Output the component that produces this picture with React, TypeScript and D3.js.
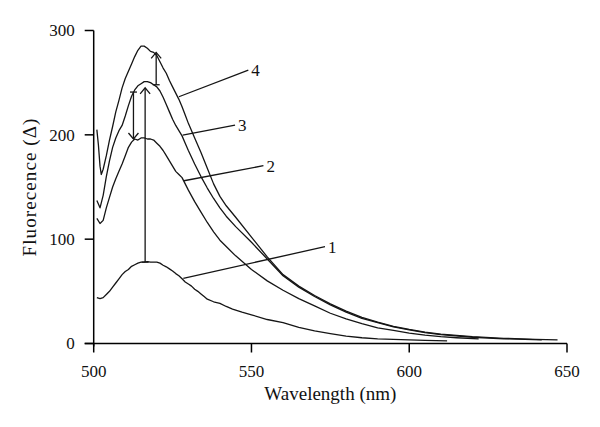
import React from "react";
import * as d3 from "d3";

// Emission spectra: [wavelength nm, fluorescence]
const curve1: [number, number][] = [
  [501, 44], [502, 43], [503, 44], [504, 47], [505, 50], [506, 54], [507, 58], [508, 62], [509, 66],
  [510, 69], [511, 71], [512, 74], [513, 75.5], [514, 77], [515, 78], [516, 78], [517, 78.5], [518, 78],
  [519, 78], [520, 78], [521, 77], [522, 75], [523, 73.5], [524, 71.5], [525, 69.5], [526, 67], [527, 65],
  [528, 62], [529, 59], [530, 57], [531, 55], [532, 52], [533, 50], [534, 47.5], [535, 45], [536, 42.5],
  [538, 40], [540, 38.5], [542, 35.5], [544, 33], [547, 30], [550, 27.5], [555, 23], [560, 20], [565, 15.5],
  [570, 12], [575, 9.5], [580, 7], [585, 5.5], [590, 4.5], [595, 4], [600, 3.5], [605, 3], [612, 2.5],
];
const curve2: [number, number][] = [
  [501, 120], [502, 115], [503, 118], [504, 130], [505, 140], [506, 150], [507, 158], [508, 165],
  [509, 172], [510, 180], [511, 188], [512, 193], [513, 196], [514, 195], [515, 197], [516, 197],
  [517, 196], [518, 196], [519, 195], [520, 192], [521, 189], [522, 185], [523, 180], [524, 175],
  [525, 170], [526, 165], [527, 162], [528, 159], [529, 153], [530, 147], [532, 136], [534, 126],
  [536, 116], [538, 107], [540, 99], [542, 93], [545, 84], [550, 71], [555, 60], [560, 51], [565, 43],
  [570, 36], [575, 29], [580, 23.5], [585, 19], [590, 15], [595, 12.5], [600, 10], [605, 8], [610, 6.5],
  [615, 5.5], [622, 4.5],
];
const curve3: [number, number][] = [
  [501, 137], [502, 130], [503, 142], [504, 160], [505, 175], [506, 188], [507, 197], [508, 204],
  [509, 209], [510, 218], [511, 228], [512, 237], [513, 243], [514, 247], [515, 249], [516, 251],
  [517, 251], [518, 250], [519, 248], [520, 246], [521, 242], [522, 236], [523, 229], [524, 222],
  [525, 215], [526, 209], [527, 204], [528, 199], [529, 192], [530, 185], [532, 172], [534, 160],
  [536, 149], [538, 139], [540, 130], [542, 122], [545, 112], [550, 97], [555, 81], [560, 65], [565, 54],
  [570, 45], [575, 37], [580, 30], [585, 24], [590, 20], [595, 16], [600, 13], [605, 10.5], [610, 8.5],
  [620, 6], [630, 4.5], [642, 3.5],
];
const curve4: [number, number][] = [
  [501, 205], [501.5, 190], [502, 170], [502.4, 162], [503, 167], [504, 180], [505, 195], [506, 208],
  [507, 222], [508, 233], [509, 245], [510, 254], [511, 261], [512, 268], [513, 275], [514, 281],
  [515, 285], [516, 285], [517, 283], [518, 280], [519, 279], [520, 276], [521, 270], [522, 264],
  [523, 259], [524, 252], [525, 246], [526, 240], [527, 234], [528, 227], [529, 219], [530, 211],
  [532, 197], [534, 183], [536, 168], [538, 153], [540, 141], [542, 132], [545, 121], [550, 102],
  [555, 83], [560, 66], [565, 55], [570, 46], [575, 38], [580, 31], [585, 25], [590, 20.5], [595, 16.5],
  [600, 13.5], [605, 11], [610, 9], [620, 6.5], [630, 5], [640, 4], [647, 3.5],
];

const xTicks = [500, 550, 600, 650];
const yTicks = [0, 100, 200, 300];

// Arrows: [wavelength, from value, to value]
const arrows: [number, number, number][] = [
  [519.8, 248, 279],
  [512.6, 241, 196],
  [516.3, 78, 245],
];

// Curve labels: text, anchor on curve [nm, value], end of leader [nm, value]
const labelText = ["4", "3", "2", "1"];
const labelFrom: [number, number][] = [[527.0, 236.5], [528.2, 199.8], [528.6, 156], [528.4, 62.5]];
const labelTo: [number, number][] = [[549.0, 262.1], [544.8, 209.4], [553.8, 170.4], [573.3, 92.8]];

const W = 600;
const H = 427;
const FONT = "Liberation Serif, DejaVu Serif, serif";

export default function App() {
  const x = d3.scaleLinear().domain([500, 650]).range([93.7, 567]);
  const y = d3.scaleLinear().domain([0, 300]).range([343.5, 30.5]);
  const line = d3
    .line<[number, number]>()
    .x((d) => x(d[0]))
    .y((d) => y(d[1]))
    .curve(d3.curveLinear);
  const curves = [curve1, curve2, curve3, curve4];
  const ink = "#151515";
  const ts = { fontFamily: FONT, fontSize: 17, fill: "#111" } as React.CSSProperties;

  return (
    <svg width={W} height={H} style={{ position: "absolute", left: 0, top: 0, background: "#fff" }}>
      <rect width={W} height={H} fill="#fff" />
      {/* axes */}
      <line x1={x(500)} x2={x(500)} y1={y(300)} y2={y(0) + 3} stroke="#000" strokeWidth={1.5} />
      <line x1={x(500) - 9} x2={x(650)} y1={y(0)} y2={y(0)} stroke="#000" strokeWidth={1.5} />
      {yTicks.map((t) => (
        <g key={"y" + t}>
          <line x1={x(500) - 9} x2={x(500)} y1={y(t)} y2={y(t)} stroke="#000" strokeWidth={1.5} />
          <text x={x(500) - 19} y={y(t)} dy="0.35em" textAnchor="end" style={ts}>
            {t}
          </text>
        </g>
      ))}
      {xTicks.map((t) => (
        <g key={"x" + t}>
          <line x1={x(t)} x2={x(t)} y1={y(0)} y2={y(0) + 9} stroke="#000" strokeWidth={1.5} />
          <text x={x(t)} y={377} textAnchor="middle" style={ts}>
            {t}
          </text>
        </g>
      ))}
      <text x={(x(500) + x(650)) / 2} y={400} textAnchor="middle" style={{ ...ts, fontSize: 19 }}>
        Wavelength (nm)
      </text>
      <text transform={`translate(36, ${187}) rotate(-90)`} textAnchor="middle" style={{ ...ts, fontSize: 19, letterSpacing: 1.1 }}>
        Fluorecence (Δ)
      </text>

      {/* curves */}
      {curves.map((c, i) => (
        <path key={"c" + i} d={line(c) || ""} fill="none" stroke={ink} strokeWidth={1.3} strokeLinejoin="round" />
      ))}

      {/* arrows */}
      {arrows.map(([nm, from, to], i) => {
        const px = x(nm);
        const y0 = y(from);
        const y1 = y(to);
        const dir = y1 < y0 ? 1 : -1; // 1 = pointing up
        return (
          <g key={"a" + i} stroke={ink} strokeWidth={1.3} fill="none">
            <line x1={px} x2={px} y1={y0} y2={y1} />
            <line x1={px - 3.5} x2={px + 3.5} y1={y0} y2={y0} />
            <polyline points={`${px - 5},${y1 + dir * 6} ${px},${y1} ${px + 5},${y1 + dir * 6}`} />
          </g>
        );
      })}

      {/* leader lines and labels */}
      {labelText.map((t, i) => {
        const [fx, fy] = labelFrom[i];
        const [tx, ty] = labelTo[i];
        return (
          <g key={"l" + i}>
            <line x1={x(fx)} y1={y(fy)} x2={x(tx)} y2={y(ty)} stroke={ink} strokeWidth={1.3} />
            <text x={x(tx) + 3} y={y(ty)} dy="0.35em" style={ts}>
              {t}
            </text>
          </g>
        );
      })}
    </svg>
  );
}
